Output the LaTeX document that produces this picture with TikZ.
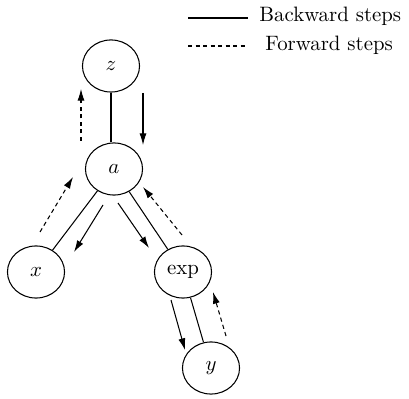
\documentclass[tikz,border=0pt]{standalone}
\usetikzlibrary{shapes.geometric,arrows.meta}

\tikzset{
  var/.style={draw,ellipse,minimum width=27.4pt,minimum height=25pt,inner sep=0pt,line width=0.5pt},
  edge/.style={line width=0.5pt},
  back/.style={line width=0.5pt,-{Latex[length=5.6pt,width=3.4pt]}},
  fwd/.style={line width=0.5pt,dash pattern=on 2pt off 1.6pt,-{Latex[length=5.6pt,width=3.4pt]}},
}

\begin{document}
\begin{tikzpicture}[x=0.48pt,y=-0.48pt,line cap=butt]
        % Frame (pixel grid of the reference, y pointing down)
        \useasboundingbox (0,0) rectangle (409,398);

        % Graph nodes
        \node[var] (z)   at (111,66)  {$z$};
        \node[var] (a)   at (114,169) {$a$};
        \node[var] (x)   at (36,272)  {$x$};
        \node[var] (exp) at (183,272) {$\exp$};
        \node[var] (y)   at (211,368) {$y$};

        % Edges
        \draw[edge] (z) -- (z |- a.north);
        \draw[edge] (a) -- (x);
        \draw[edge] (a) -- (exp);
        \draw[edge] (exp) -- (y);

        % Free ends of the step arrows
        \coordinate (za1) at (81,141);  \coordinate (za2) at (81,89);
        \coordinate (az1) at (143,93);  \coordinate (az2) at (143,145);
        \coordinate (xa1) at (40,232);  \coordinate (xa2) at (73,177);
        \coordinate (ax1) at (103,205); \coordinate (ax2) at (74,252);
        \coordinate (ae1) at (118,203); \coordinate (ae2) at (149,248);
        \coordinate (ea1) at (182,235); \coordinate (ea2) at (143,187);
        \coordinate (ey1) at (171,300); \coordinate (ey2) at (185,350);
        \coordinate (ye1) at (226,336); \coordinate (ye2) at (213,292);

        % Backward steps (solid, downwards)
        \draw[back] (az1) -- (az2);
        \draw[back] (ax1) -- (ax2);
        \draw[back] (ae1) -- (ae2);
        \draw[back] (ey1) -- (ey2);

        % Forward steps (dashed, upwards)
        \draw[fwd] (za1) -- (za2);
        \draw[fwd] (xa1) -- (xa2);
        \draw[fwd] (ea1) -- (ea2);
        \draw[fwd] (ye1) -- (ye2);

        % Legend
        \coordinate (lb1) at (188,18); \coordinate (lb2) at (248,18);
        \coordinate (lf1) at (188,46); \coordinate (lf2) at (248,46);
        \draw[edge] (lb1) -- (lb2);
        \draw[edge,dash pattern=on 2pt off 1.6pt] (lf1) -- (lf2);
        \node[anchor=west,inner sep=0pt] (backlbl) at (259,16) {Backward steps};
        \node[anchor=west,inner sep=0pt] (fwdlbl)  at (265,45) {Forward steps};
      \end{tikzpicture}
\end{document}
